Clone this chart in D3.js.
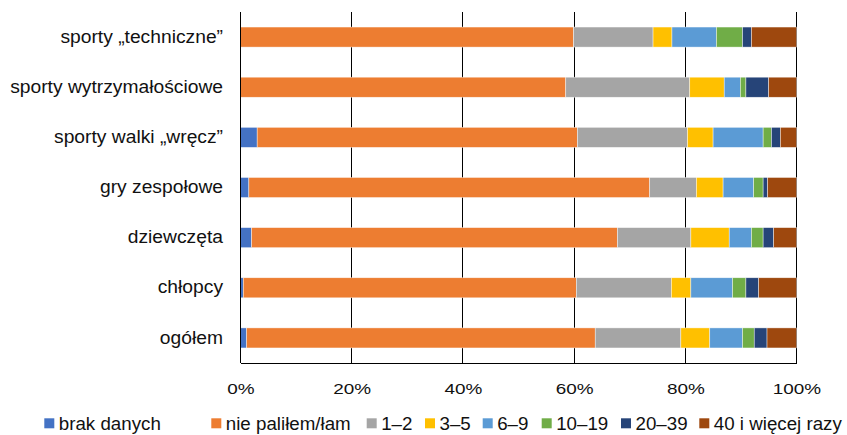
<!DOCTYPE html>
<html>
<head>
<meta charset="utf-8">
<script src="https://cdn.jsdelivr.net/npm/d3@7"></script>
<style>
  html, body { margin: 0; padding: 0; background: #fff; }
  svg { display: block; font-family: "Liberation Sans", Arial, Helvetica, sans-serif; }
</style>
</head>
<body>
<svg id="chart" width="847" height="435"></svg>
<script>
// ---- data ----
const categories = [
  "sporty \u201Etechniczne\u201D",
  "sporty wytrzymałościowe",
  "sporty walki \u201Ewręcz\u201D",
  "gry zespołowe",
  "dziewczęta",
  "chłopcy",
  "ogółem"
];
const seriesNames = ["brak danych", "nie paliłem/łam", "1–2", "3–5", "6–9", "10–19", "20–39", "40 i więcej razy"];
const brakDanych   = [0.0, 0.0, 3.0, 1.5, 2.0, 0.5, 1.1];
const niePalil     = [59.9, 58.5, 57.6, 72.1, 65.8, 59.9, 62.7];
const s1_2         = [14.3, 22.3, 19.8, 8.4, 13.2, 17.1, 15.4];
const s3_5         = [3.4, 6.2, 4.6, 4.8, 6.9, 3.5, 5.2];
const s6_9         = [8.0, 2.9, 9.0, 5.5, 4.0, 7.5, 5.9];
const s10_19       = [4.7, 1.0, 1.5, 1.7, 2.1, 2.4, 2.1];
const s20_39       = [1.6, 4.1, 1.6, 0.8, 1.9, 2.3, 2.3];
const s40plus      = [8.1, 5.0, 2.9, 5.2, 4.1, 6.8, 5.3];
const tickValues   = [0, 20, 40, 60, 80, 100];

// ---- styles ----
const colors = ["#4472C4", "#ED7D31", "#A5A5A5", "#FFC000", "#5B9BD5", "#70AD47", "#264478", "#9E480E"];
const seriesValues = [brakDanych, niePalil, s1_2, s3_5, s6_9, s10_19, s20_39, s40plus];

(function () {
const rows = categories.map((c, i) => {
  const r = { cat: c };
  seriesNames.forEach((s, j) => r[s] = seriesValues[j][i]);
  return r;
});

const svg = d3.select("#chart");
const pLeft = 240.5, pRight = 796.5, pTop = 12, pBottom = 363;

const x = d3.scaleLinear().domain([0, 100]).range([pLeft, pRight]);
const y = d3.scaleBand().domain(categories).range([pTop, pBottom]).paddingInner(0.6).paddingOuter(0.3);

function stretch(sel, k) {
  sel.each(function () {
    const w = this.getComputedTextLength();
    this.setAttribute("textLength", w * k);
    this.setAttribute("lengthAdjust", "spacingAndGlyphs");
  });
}

// gridlines
svg.append("g").selectAll("line").data(tickValues).join("line")
  .attr("x1", d => x(d)).attr("x2", d => x(d))
  .attr("y1", pTop).attr("y2", pBottom)
  .attr("stroke", "#000").attr("stroke-width", 1)
  .attr("shape-rendering", "crispEdges");

// bars
const stack = d3.stack().keys(seriesNames)(rows);
svg.append("g").selectAll("g").data(stack).join("g")
  .attr("fill", (d, i) => colors[i])
  .selectAll("rect").data(d => d).join("rect")
  .attr("x", d => x(d[0]))
  .attr("width", d => Math.max(0, x(d[1]) - x(d[0])))
  .attr("y", d => y(d.data.cat))
  .attr("height", y.bandwidth())
  .attr("stroke", "#fff").attr("stroke-width", 0.6).attr("stroke-opacity", 0.7);

// axis lines
svg.append("line").attr("x1", pLeft).attr("x2", pLeft).attr("y1", pTop).attr("y2", pBottom)
  .attr("stroke", "#000").attr("stroke-width", 1).attr("shape-rendering", "crispEdges");
svg.append("line").attr("x1", pLeft).attr("x2", pRight).attr("y1", pBottom).attr("y2", pBottom)
  .attr("stroke", "#000").attr("stroke-width", 1).attr("shape-rendering", "crispEdges");

// x axis labels via d3 axis
const xAxis = d3.axisBottom(x).tickValues(tickValues).tickFormat(d => d + "%").tickSize(0).tickPadding(20);
const gx = svg.append("g").attr("transform", `translate(0,${pBottom})`).call(xAxis);
gx.select(".domain").remove();
gx.selectAll("text").attr("font-size", "15.5px").attr("fill", "#111")
  .attr("font-family", "Liberation Sans, Arial, sans-serif");
stretch(gx.selectAll("text"), 1.22);

// y axis labels via d3 axis
const yAxis = d3.axisLeft(y).tickSize(0).tickPadding(pLeft - 223);
const gy = svg.append("g").attr("transform", `translate(${pLeft},0)`).call(yAxis);
gy.select(".domain").remove();
gy.selectAll("text").attr("font-size", "17.5px").attr("fill", "#111")
  .attr("font-family", "Liberation Sans, Arial, sans-serif");
stretch(gy.selectAll("text"), 1.1);

// legend
const legendX = [44.3, 211.3, 366.7, 425, 482.7, 541.7, 621, 699.3];
const legY = 418.3;
const leg = svg.append("g").selectAll("g").data(seriesNames).join("g")
  .attr("transform", (d, i) => `translate(${legendX[i]},${legY})`);
leg.append("rect").attr("width", 10).attr("height", 10).attr("fill", (d, i) => colors[i]);
const legText = leg.append("text").attr("x", 14.5).attr("y", 11.9)
  .attr("font-size", "17.5px").attr("fill", "#111").text(d => d);
stretch(legText, 1.07);
})();
</script>
</body>
</html>
